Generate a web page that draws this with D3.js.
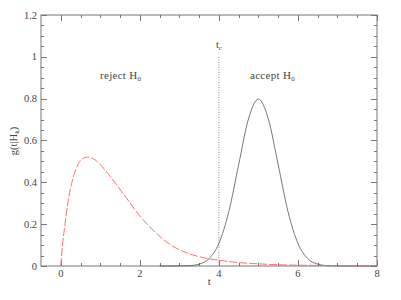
<!DOCTYPE html>
<html><head><meta charset="utf-8">
<script src="https://cdn.jsdelivr.net/npm/d3@7"></script>
<style>
body{margin:0;background:#fff;}
svg{display:block;}
text{font-family:"Liberation Serif","DejaVu Serif",serif;fill:#444;}
</style></head><body>
<svg id="c" width="401" height="300"></svg>
<script>
// Data
const rejectT = [0, 0.04, 0.11, 0.19, 0.32, 0.45, 0.58, 0.68, 0.78, 0.9, 1.12, 1.45, 1.79, 2.0, 2.42, 2.84, 3.26, 3.68, 4.1, 4.53, 5.03, 5.5, 6.0, 6.4, 7.0, 7.5, 8.0];
const rejectG = [0, 0.092, 0.204, 0.315, 0.427, 0.491, 0.516, 0.521, 0.517, 0.503, 0.459, 0.379, 0.292, 0.240, 0.156, 0.094, 0.058, 0.037, 0.025, 0.016, 0.010, 0.006, 0.004, 0.003, 0.002, 0.001, 0.001];
const acceptT = [2.5, 3.0, 3.25, 3.5, 3.75, 4.0, 4.25, 4.5, 4.75, 5.0, 5.25, 5.5, 5.75, 6.0, 6.25, 6.5, 6.75, 7.0, 7.5, 8.0];
const acceptG = [0, 0.0003, 0.0017, 0.009, 0.035, 0.108, 0.259, 0.484, 0.704, 0.798, 0.704, 0.484, 0.259, 0.108, 0.035, 0.009, 0.0017, 0.0003, 0, 0];
const xTicks = [0, 2, 4, 6, 8];
const yTicks = [0, 0.2, 0.4, 0.6, 0.8, 1, 1.2];
const tCrit = 4;

const svg = d3.select("#c");
const L = 41, R = 377, T = 15, B = 266;
const x = d3.scaleLinear().domain([-0.5, 8]).range([L, R]);
const y = d3.scaleLinear().domain([0, 1.2]).range([B, T]);
const axisColor = "#777";

// frame
svg.append("rect").attr("x", L).attr("y", T).attr("width", R - L).attr("height", B - T)
  .attr("fill", "none").attr("stroke", axisColor).attr("stroke-width", 1);

// ticks
const xMinor = d3.range(0, 8.01, 0.5);
const yMinor = d3.range(0, 1.2001, 0.05);
const isMajorX = v => Math.abs(v / 2 - Math.round(v / 2)) < 1e-6;
const isMajorY = v => Math.abs(v / 0.2 - Math.round(v / 0.2)) < 1e-6;
const tg = svg.append("g").attr("stroke", axisColor).attr("stroke-width", 1);
xMinor.forEach(v => {
  const len = isMajorX(v) ? 6 : 3;
  const px = Math.round(x(v)) + 0.5;
  tg.append("line").attr("x1", px).attr("x2", px).attr("y1", B).attr("y2", B - len);
  tg.append("line").attr("x1", px).attr("x2", px).attr("y1", T).attr("y2", T + len);
});
yMinor.forEach(v => {
  const len = isMajorY(v) ? 6 : 3;
  const py = Math.round(y(v)) + 0.5;
  tg.append("line").attr("x1", L).attr("x2", L + len).attr("y1", py).attr("y2", py);
  tg.append("line").attr("x1", R).attr("x2", R - len).attr("y1", py).attr("y2", py);
});

// tick labels
svg.append("g").selectAll("text").data(xTicks).join("text")
  .attr("x", d => x(d)).attr("y", 277).attr("text-anchor", "middle")
  .attr("font-size", 10.5).text(d => d);
svg.append("g").selectAll("text").data(yTicks).join("text")
  .attr("x", 37).attr("y", d => y(d) + 3.5).attr("text-anchor", "end")
  .attr("font-size", 10.5).text(d => d);

// axis titles
svg.append("text").attr("x", x(4) - 9.5).attr("y", 285).attr("text-anchor", "middle")
  .attr("font-size", 11).text("t");
const yl = svg.append("text").attr("transform", "translate(16.5,141) rotate(-90)")
  .attr("text-anchor", "middle").attr("font-size", 10.5);
yl.append("tspan").text("g(t|H");
yl.append("tspan").attr("font-size", 7).attr("dy", 2).text("k");
yl.append("tspan").attr("dy", -2).text(")");

// critical line
svg.append("line").attr("x1", x(tCrit)).attr("x2", x(tCrit)).attr("y1", 57).attr("y2", B)
  .attr("stroke", "#888").attr("stroke-width", 1).attr("stroke-dasharray", "1,1.5");
const tc = svg.append("text").attr("x", x(tCrit) - 3).attr("y", 48).attr("font-size", 10.5);
tc.append("tspan").text("t");
tc.append("tspan").attr("font-size", 7).attr("dy", 2).text("c");

// region labels
function label(px, py, word) {
  const t = svg.append("text").attr("x", px).attr("y", py).attr("font-size", 11)
    .attr("letter-spacing", 0.3);
  t.append("tspan").text(word + " H");
  t.append("tspan").attr("font-size", 7).attr("dy", 2).text("0");
}
label(100, 79, "reject");
label(250, 79, "accept");

// curves
const line = d3.line().x(d => x(d[0])).y(d => y(d[1])).curve(d3.curveMonotoneX);
svg.append("path").datum(acceptT.map((t, i) => [t, acceptG[i]]))
  .attr("d", line).attr("fill", "none").attr("stroke", "#555").attr("stroke-width", 0.8);
svg.append("path").datum(rejectT.map((t, i) => [t, rejectG[i]]))
  .attr("d", line).attr("fill", "none").attr("stroke", "#ff7070").attr("stroke-width", 1)
  .attr("stroke-dasharray", "8,2");
</script></body></html>
